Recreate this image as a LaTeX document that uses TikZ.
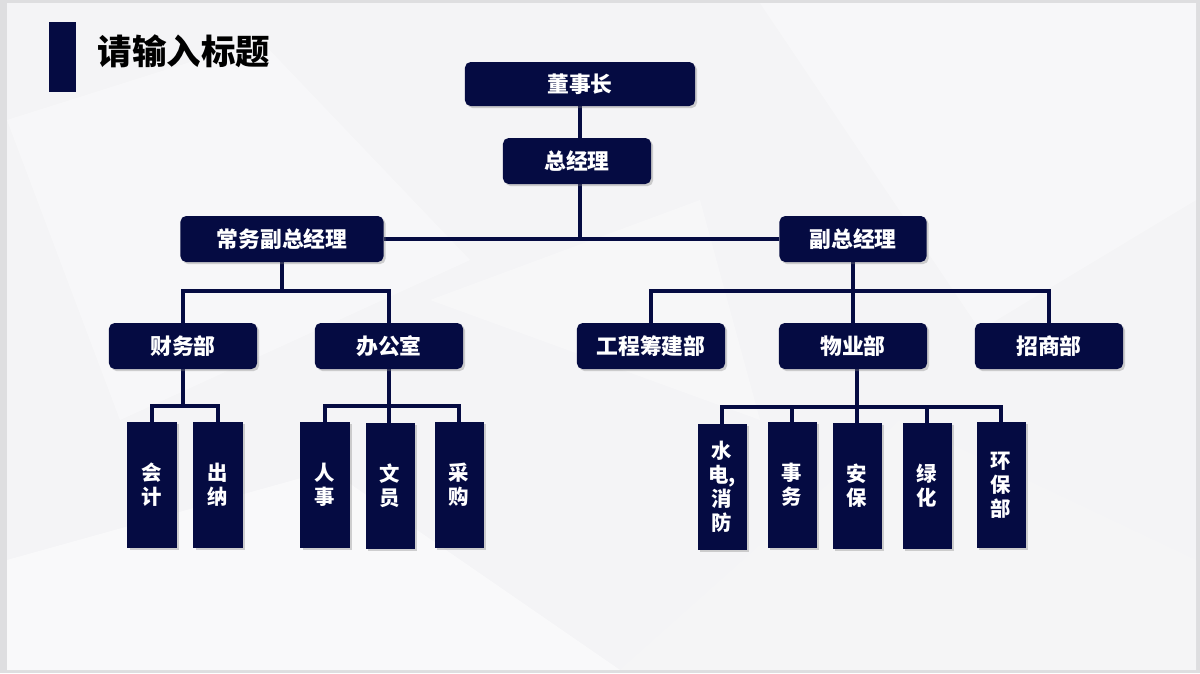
\documentclass[tikz,border=0pt]{standalone}
\usepackage{fontspec}
\newfontfamily\cjk{Noto Sans CJK SC}
\usetikzlibrary{positioning,shadows,backgrounds}
\definecolor{navy}{RGB}{5,11,66}
\definecolor{slide}{RGB}{244,244,246}
\definecolor{frame}{RGB}{222,222,224}
\tikzset{
  box/.style={draw=none, fill=navy, rounded corners=4pt, text=white,
    minimum width=3.7cm, minimum height=1.15cm, inner sep=0pt,
    font=\cjk\bfseries\fontsize{15.5}{18}\selectfont,
    drop shadow={shadow xshift=1.5pt, shadow yshift=-1.5pt, opacity=.35, fill=gray}},
  leaf/.style={fill=navy, text=white, minimum width=1.225cm, minimum height=3.15cm,
    inner sep=0pt, align=center,
    font=\cjk\bfseries\fontsize{14.5}{17}\selectfont,
    drop shadow={shadow xshift=1.5pt, shadow yshift=-1.5pt, opacity=.35, fill=gray}},
  link/.style={draw=navy, line width=2.5pt}
}
\begin{document}
\begin{tikzpicture}[x=0.025cm, y=-0.025cm]
        \useasboundingbox (0,0) rectangle (1200,673);

        % Slide background
        \begin{scope}[on background layer]
        \fill[frame] (0,0) rectangle (1200,673);
        \fill[slide] (7,3) rectangle (1196,670);
        \fill[white, opacity=.35] (7,120) -- (260,40) -- (470,260) -- (120,420) -- cycle;
        \fill[white, opacity=.35] (760,3) -- (1196,3) -- (1196,200) -- (980,330) -- cycle;
        \fill[white, opacity=.5] (7,560) -- (330,470) -- (620,670) -- (7,670) -- cycle;
        \fill[gray!6, opacity=.5] (620,670) -- (900,420) -- (1196,560) -- (1196,670) -- cycle;
        \fill[white, opacity=.3] (430,300) -- (700,200) -- (760,420) -- cycle;
        \end{scope}

        % Title
        \fill[navy] (49,22) rectangle (76,92);
        \node[anchor=west, font=\cjk\bfseries\fontsize{24.5}{28}\selectfont] (title) at (93,51) {请输入标题};

        % Top levels
        \node[box, minimum width=5.75cm, minimum height=1.1cm] (dsz) at (580,84) {董事长};
        \node[box] (zjl) at (577,161) {总经理};
        \node[box, minimum width=5.075cm] (cwfz) at (282,239) {常务副总经理};
        \node[box, minimum width=3.675cm] (fz) at (853,239) {副总经理};

        % Departments
        \node[box] (cwb) at (183,346) {财务部};
        \node[box] (bgs) at (389,346) {办公室};
        \node[box] (gcb) at (651,346) {工程筹建部};
        \node[box] (wyb) at (853,346) {物业部};
        \node[box] (zsb) at (1049,346) {招商部};

        % Leaves
        \node[leaf] (kj) at (152,485) {会\\计};
        \node[leaf] (cn) at (218,485) {出\\纳};
        \node[leaf] (rs) at (325,485) {人\\事};
        \node[leaf] (wy) at (390,486) {文\\员};
        \node[leaf] (cg) at (459,485) {采\\购};
        \node[leaf] (sd) at (722,487) {水\\电,\\消\\防};
        \node[leaf] (sw) at (792,485) {事\\务};
        \node[leaf] (ab) at (857,486) {安\\保};
        \node[leaf] (lh) at (927,486) {绿\\化};
        \node[leaf] (hb) at (1001,485) {环\\保\\部};

        % Junctions
        \coordinate (jL) at (282,291);
        \coordinate (jR) at (853,291);
        \coordinate (jCW) at (183,406);
        \coordinate (jBG) at (389,406);
        \coordinate (jWY) at (857,407);

        % Connectors
        \begin{scope}[on background layer]
        \draw[link] (dsz.south) -- (dsz.south |- cwfz.east);
        \draw[link] (cwfz.east) -- (fz.west);
        \draw[link] (cwfz.south) -- (jL);
        \draw[link] (cwb.north) |- (jL) -| (bgs.north);
        \draw[link] (fz.south) -- (jR);
        \draw[link] (gcb.north) |- (jR) -| (zsb.north);
        \draw[link] (jR) -- (wyb.north);
        \draw[link] (cwb.south) -- (jCW);
        \draw[link] (kj.north) |- (jCW) -| (cn.north);
        \draw[link] (bgs.south) -- (bgs.south |- wy.north);
        \draw[link] (rs.north) |- (jBG) -| (cg.north);
        \draw[link] (wyb.south -| ab) -- (ab.north);
        \draw[link] (sd.north) |- (jWY) -| (hb.north);
        \draw[link] (sw.north) |- (jWY) -| (lh.north);
        \end{scope}

    \end{tikzpicture}
\end{document}
